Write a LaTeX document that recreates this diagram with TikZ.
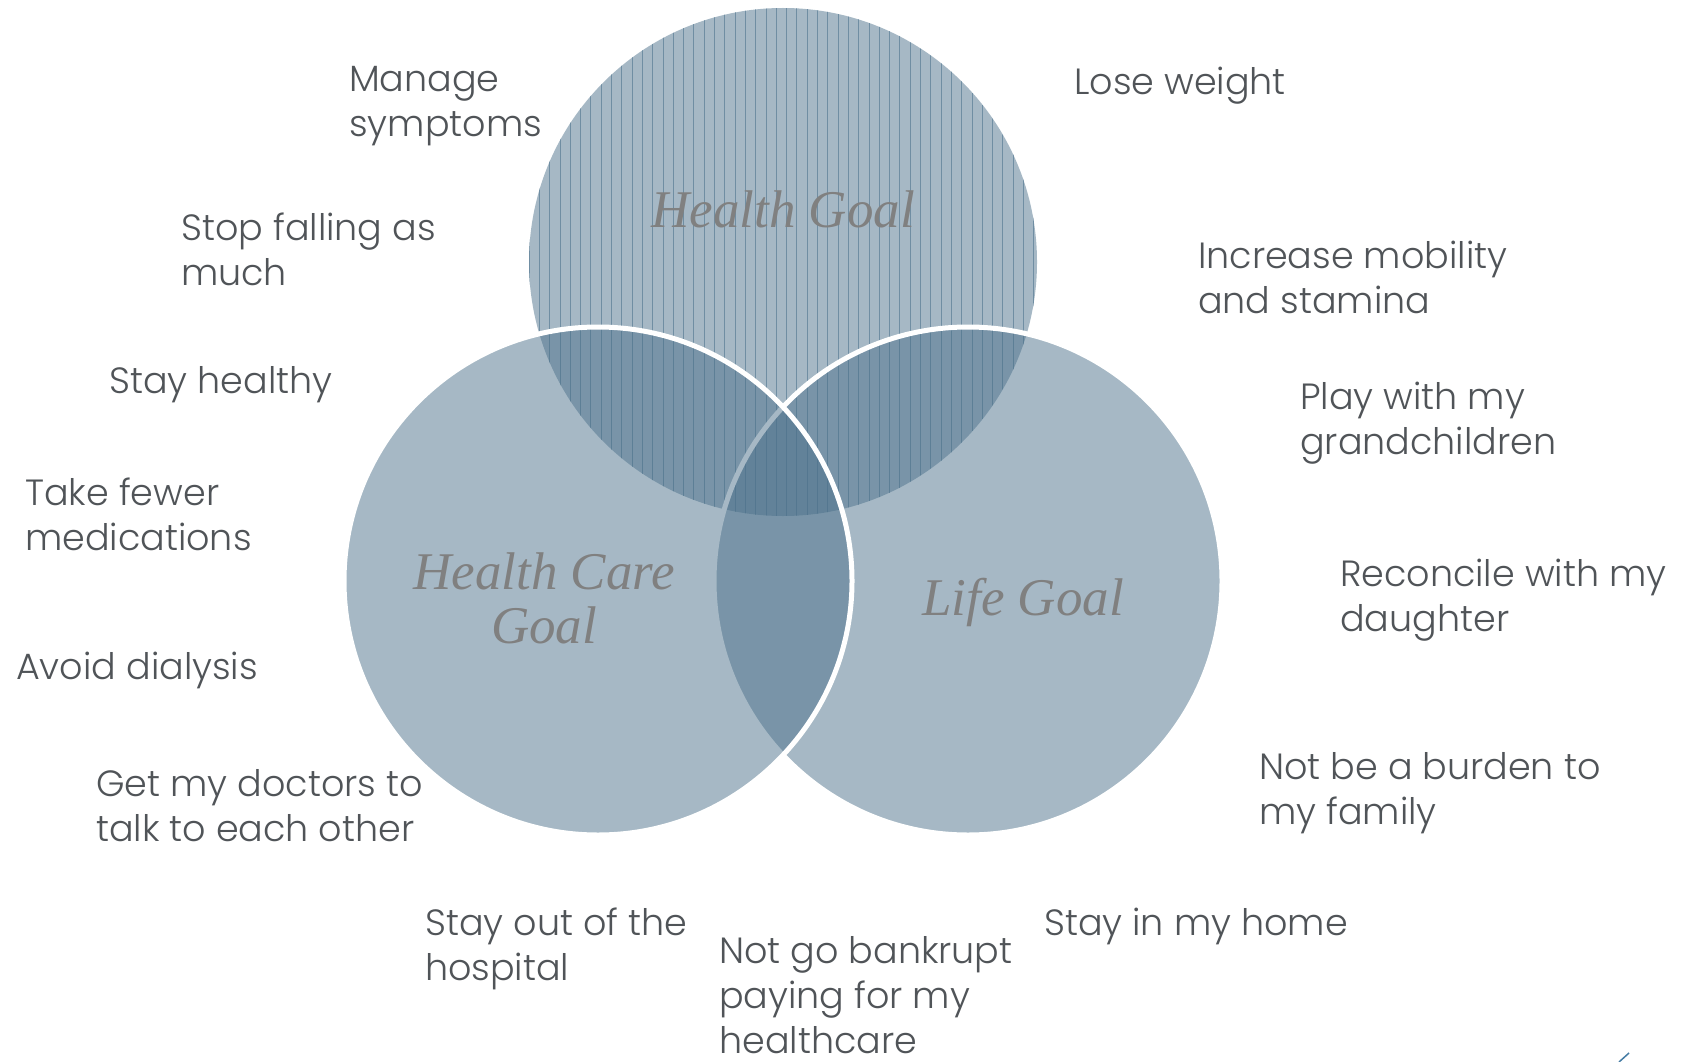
\documentclass[tikz,border=0pt]{standalone}
\usepackage{fontspec}
\setmainfont{Poppins Light}
\newfontfamily\goalfont{Liberation Serif}
\definecolor{vennfill}{RGB}{75,112,138}
\definecolor{stripe}{RGB}{112,142,163}
\definecolor{labeltext}{RGB}{80,84,88}
\definecolor{goaltext}{RGB}{128,128,128}
\definecolor{tick}{RGB}{70,125,165}
\begin{document}
\begin{tikzpicture}[x=1pt,y=-1pt,
  item/.style={anchor=base west, align=left, inner sep=0pt, text=labeltext,
    font=\fontsize{36.5}{45}\selectfont},
  goal/.style={anchor=base, align=center, inner sep=0pt, text=goaltext,
    font=\goalfont\itshape\fontsize{53}{54}\selectfont},
  disc/.style={fill=vennfill, fill opacity=0.49},
  ring/.style={disc, draw=white, line width=5pt}]
\useasboundingbox (0,0) rectangle (1686,1062);
\fill[white] (0,0) rectangle (1686,1062);

% upper circle with vertical hatching
\fill[disc] (783,262) circle[radius=254];
\begin{scope}
  \clip (783,262) circle[radius=254];
  \foreach \i in {0,...,50}
    \draw[stripe, line width=0.75pt] ({529+\i*10.3},0) -- ({529+\i*10.3},520);
\end{scope}

% lower circles, right one first
\path[ring] (968,581) circle[radius=254];
\path[ring] (598,581) circle[radius=254];

% circle titles (anchored on the baseline of the last line)
\node[goal] (health) at (783,227) {Health Goal};
\node[goal] (care) at (544,643) {Health Care\\Goal};
\node[goal] (life) at (1023,615) {Life Goal};

% surrounding goals (anchored on the baseline of the last line)
\node[item] (manage) at (349,136) {Manage\\symptoms};
\node[item] (weight) at (1074,95) {Lose weight};
\node[item] (falling) at (181,285) {Stop falling as\\much};
\node[item] (mobility) at (1198,313) {Increase mobility\\and stamina};
\node[item] (healthy) at (109,393) {Stay healthy};
\node[item] (play) at (1300,454) {Play with my\\grandchildren};
\node[item] (fewer) at (25,550) {Take fewer\\medications};
\node[item] (reconcile) at (1340,631) {Reconcile with my\\daughter};
\node[item] (dialysis) at (16,679) {Avoid dialysis};
\node[item] (burden) at (1259,824) {Not be a burden to\\my family};
\node[item] (doctors) at (96,841) {Get my doctors to\\talk to each other};
\node[item] (hospital) at (425,980) {Stay out of the\\hospital};
\node[item] (home) at (1044,935) {Stay in my home};
\node[item] (bankrupt) at (719,1053) {Not go bankrupt\\paying for my\\healthcare};

% small stroke in the corner
\coordinate (tickA) at (1619,1062);
\coordinate (tickB) at (1629,1053);
\draw[tick, line width=1.5pt] (tickA) -- (tickB);
\end{tikzpicture}
\end{document}
